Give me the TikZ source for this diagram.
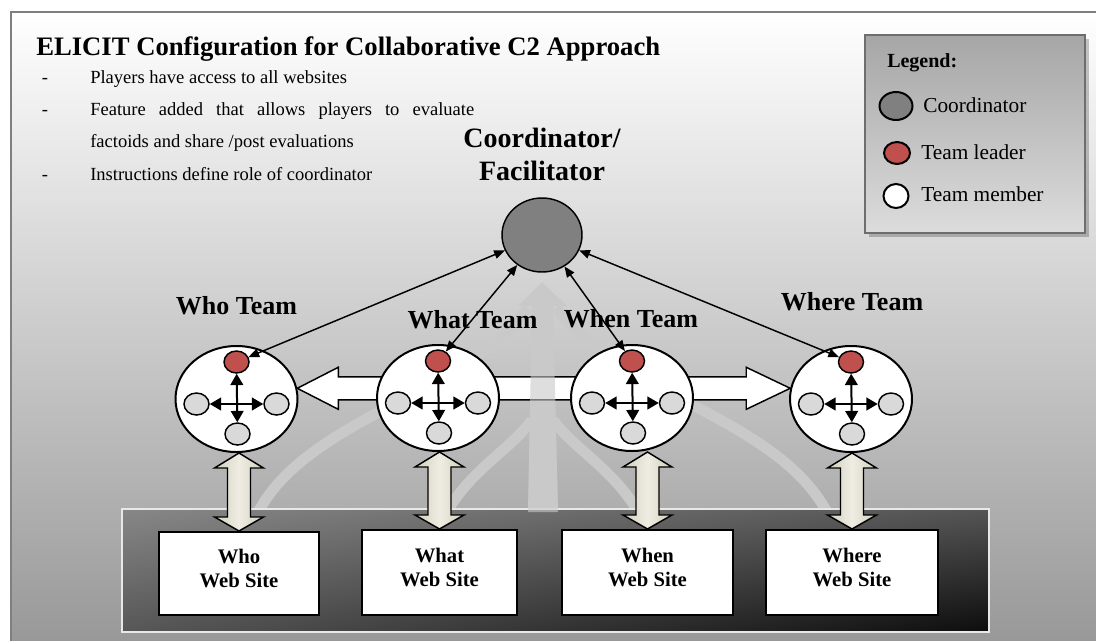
\documentclass[tikz,border=0pt]{standalone}
\usepackage{fontspec}
\setmainfont{Liberation Serif}
\usetikzlibrary{arrows.meta,shapes.geometric,calc,shadows,shadings}
\pgfdeclarelayer{back}
\pgfsetlayers{back,main}
\definecolor{frameline}{HTML}{7F7F7F}
\definecolor{bgmid}{HTML}{D3D3D3}
\definecolor{bgbottom}{HTML}{979797}
\definecolor{leaderred}{HTML}{C0504D}
\definecolor{membergray}{HTML}{D9D9D9}
\definecolor{coordgray}{HTML}{808080}
\definecolor{linklight}{HTML}{EFEDE3}
\definecolor{linkdark}{HTML}{D2CFBD}
\definecolor{bandgray}{HTML}{C9C9C9}
\definecolor{boxedge}{HTML}{E8E8E8}
\definecolor{legendtop}{HTML}{A6A6A6}
\definecolor{legendbottom}{HTML}{DCDCDC}
\definecolor{legendedge}{HTML}{6E6E6E}

% one team: ring, leader on top, three members, and the inner cross of arrows
\newcommand{\teamcluster}[3]{%
  \node[teamring] (#1) at (#2,#3) {};
  \node[leaderdot] (#1L) at (#2,#3-37) {};
  \node[memberdot] (#1W) at (#2-40,#3+5) {};
  \node[memberdot] (#1E) at (#2+40,#3+5) {};
  \node[memberdot] (#1S) at (#2+1,#3+35) {};
  \draw[innerlink] (#1L) -- (#1S);
  \draw[innerlink] (#1W) -- (#1E);
}
% two-headed block arrow between a web site box (#1) and its team (#2)
\newcommand{\sitelink}[2]{%
  \path[linkarrow] (#1.north |- #2.south) -- ++(24.5,15) -- ++(-13,0)
    -- ($(#1.north)+(11.5,-14)$) -- ++(13,0) -- (#1.north)
    -- ++(-24.5,-14) -- ++(13,0)
    -- ($(#1.north |- #2.south)+(-11.5,15)$) -- ++(-13,0) -- cycle;
}

\begin{document}
\begin{tikzpicture}[x=0.75pt,y=-0.75pt,
  teamring/.style={ellipse,draw,fill=white,line width=1.5pt,inner sep=0pt,minimum width=91.5pt,minimum height=79.5pt},
  leaderdot/.style={ellipse,draw,fill=leaderred,line width=1.1pt,inner sep=0pt,minimum width=18.75pt,minimum height=16.5pt},
  memberdot/.style={leaderdot,fill=membergray},
  coordinatorblob/.style={ellipse,draw,fill=coordgray,line width=1.1pt,inner sep=0pt,minimum width=60pt,minimum height=55.5pt},
  innerlink/.style={line width=1.5pt,{Triangle[length=8.5pt,width=9.5pt]}-{Triangle[length=8.5pt,width=9.5pt]}},
  toplink/.style={line width=1.1pt,{Triangle[length=8pt,width=6.5pt]}-{Triangle[length=8pt,width=6.5pt]}},
  sitebox/.style={draw,fill=white,line width=1.5pt,inner sep=0pt},
  sitetext/.style={align=center,inner sep=0pt,font=\bfseries\fontsize{15.5}{18}\selectfont},
  teamlabel/.style={anchor=base,inner sep=0pt,font=\bfseries\fontsize{19.5}{23}\selectfont},
  bullettext/.style={anchor=base west,inner sep=0pt,font=\fontsize{13.9}{16}\selectfont},
  dashmark/.style={anchor=base,inner sep=0pt,font=\fontsize{13.9}{16}\selectfont},
  legendtext/.style={anchor=base west,inner sep=0pt,font=\fontsize{16}{19}\selectfont},
  linkarrow/.style={draw,line width=1.1pt,line join=miter,left color=linkdark,right color=linkdark,middle color=linklight},
  blockarrow/.style={draw,fill=white,line width=1.1pt,line join=miter},
  band/.style={bandgray,line width=8pt},
  legendbox/.style={draw=legendedge,line width=1.5pt,top color=legendtop,bottom color=legendbottom,
    minimum width=165pt,minimum height=148.5pt,inner sep=0pt,
    drop shadow={shadow xshift=3pt,shadow yshift=-3pt,opacity=0.22,fill=black}}
]
\useasboundingbox (0,0) rectangle (1096,640);

% ---- teams ----
\teamcluster{who}{236.5}{399}
\teamcluster{what}{438}{398}
\teamcluster{when}{632}{398}
\teamcluster{where}{851}{399}

% ---- coordinator ----
\node[coordinatorblob] (coord) at (542,235) {};
\node[align=center,inner sep=0pt,font=\bfseries\fontsize{21}{24.75}\selectfont] (coordTitle) at (542,154) {Coordinator/\\Facilitator};

% ---- web sites ----
\node[sitebox,minimum width=120pt,minimum height=62.25pt] (whoSite) at (239,573.5) {};
\node[sitebox,minimum width=116.25pt,minimum height=63.75pt] (whatSite) at (439.5,572.5) {};
\node[sitebox,minimum width=128.25pt,minimum height=63.75pt] (whenSite) at (647.5,572.5) {};
\node[sitebox,minimum width=129pt,minimum height=63.75pt] (whereSite) at (852,572.5) {};
\node[sitetext] (whoSiteText) at ($(whoSite.center)+(0,-5)$) {Who\\Web Site};
\node[sitetext] (whatSiteText) at ($(whatSite.center)+(0,-5)$) {What\\Web Site};
\node[sitetext] (whenSiteText) at ($(whenSite.center)+(0,-5)$) {When\\Web Site};
\node[sitetext] (whereSiteText) at ($(whereSite.center)+(0,-5)$) {Where\\Web Site};

% ---- team names ----
\node[teamlabel] (whoName) at (236.5,314) {Who Team};
\node[teamlabel] (whatName) at (472.5,328) {What Team};
\node[teamlabel] (whenName) at (631,327) {When Team};
\node[teamlabel] (whereName) at (852,310) {Where Team};

% ---- coordinator to team leaders ----
\draw[toplink] (coord) -- (whoL);
\draw[toplink] (coord) -- (whatL);
\draw[toplink] (coord) -- (whenL);
\draw[toplink] (coord) -- (whereL);

% ---- heading and notes ----
\node[anchor=base west,inner sep=0pt,font=\bfseries\fontsize{20}{24}\selectfont] (heading) at (36,55) {ELICIT Configuration for Collaborative C2 Approach};
\node[dashmark] (dashA) at (45,83) {-};
\node[dashmark] (dashB) at (45,115) {-};
\node[dashmark] (dashC) at (45,180) {-};
\node[bullettext] (noteA) at (90,83) {Players have access to all websites};
\node[bullettext] (noteB) at (90,115) {\makebox[288pt][s]{Feature added that allows players to evaluate}};
\node[bullettext] (noteB2) at (90,147) {factoids and share /post evaluations};
\node[bullettext] (noteC) at (90,180) {Instructions define role of coordinator};

% ---- legend ----
\node[legendbox] (legend) at (975,134) {};
\node[anchor=base west,inner sep=0pt,font=\bfseries\fontsize{15}{18}\selectfont] (legendTitle) at (887,67) {Legend:};
\node[coordinatorblob,minimum width=24.75pt,minimum height=21pt,line width=1.5pt] (keyCoord) at (896,106) {};
\node[legendtext] (keyCoordText) at (923,112) {Coordinator};
\node[leaderdot,minimum width=19.5pt,minimum height=16.5pt,line width=1.5pt] (keyLeader) at (897,153) {};
\node[legendtext] (keyLeaderText) at (921,159) {Team leader};
\node[leaderdot,fill=white,minimum width=18.75pt,minimum height=18pt,line width=1.5pt] (keyMember) at (896,196) {};
\node[legendtext] (keyMemberText) at (921,201) {Team member};

% ---- background pieces ----
\begin{pgfonlayer}{back}
  \fill[white] (0,0) rectangle (1096,640);
  \shade[top color=white,middle color=bgmid,bottom color=bgbottom] (11,12) rectangle (1110,650);
  \draw[frameline,line width=1.5pt] (11,650) -- (11,12) -- (1110,12);
  % converging light bands behind the teams
  \fill[bandgray] (542,282) -- (518,306) -- (532,306) -- (528,512) -- (558,512) -- (553,306) -- (567,306) -- cycle;
  \draw[band] (250,530) .. controls (290,420) and (460,400) .. (528,308);
  \draw[band] (835,530) .. controls (795,420) and (625,400) .. (556,308);
  \draw[band] (445,515) .. controls (470,470) and (510,450) .. (532,420);
  \draw[band] (640,515) .. controls (615,470) and (575,450) .. (553,420);
  % dark strip holding the web sites
  \shade[upper left=black!47,upper right=black!67,lower left=black!66,lower right=black!95] (122,509) rectangle (989,632);
  \draw[boxedge,line width=1.5pt] (122,509) rectangle (989,632);
  % site <-> team links
  \sitelink{whoSite}{who}
  \sitelink{whatSite}{what}
  \sitelink{whenSite}{when}
  \sitelink{whereSite}{where}
  % sharing arrow running between the teams
  \path[blockarrow] (who.10) -- ++(41,-21) -- ++(0,9.5)
    -- ($(where.170)+(-44,-11.5)$) -- ++(0,-9.5) -- (where.170)
    -- ++(-44,21) -- ++(0,-9.5)
    -- ($(who.10)+(41,11.5)$) -- ++(0,9.5) -- cycle;
  \fill[bandgray,opacity=0.6] (532,306) -- (528,512) -- (558,512) -- (553,306) -- cycle;
\end{pgfonlayer}
\end{tikzpicture}
\end{document}
